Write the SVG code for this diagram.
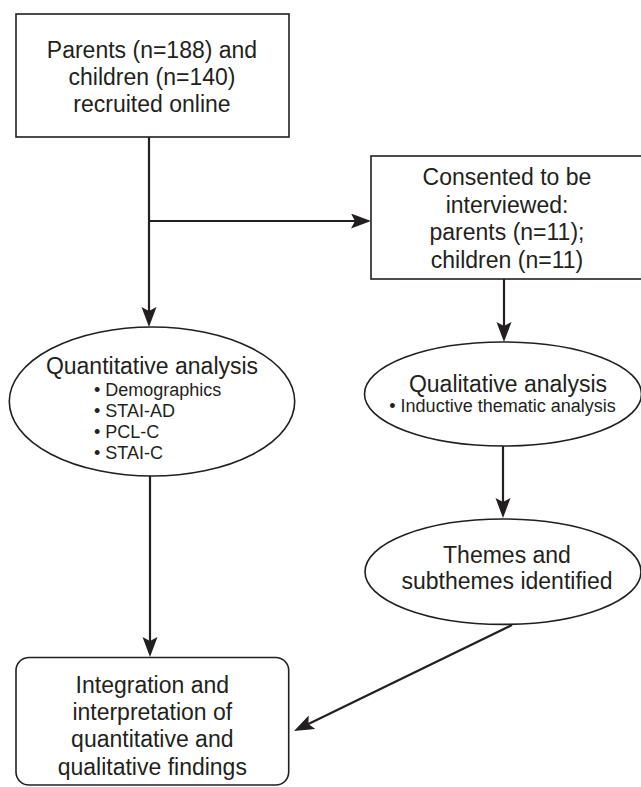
<svg xmlns="http://www.w3.org/2000/svg" width="641" height="787" viewBox="0 0 641 787">
<defs>
<style>
.node{fill:#ffffff;stroke:#231f20;stroke-width:1.6}
.t{font-family:"Liberation Sans",Arial,sans-serif;font-size:23px;fill:#231f20;text-anchor:middle}
.s{font-family:"Liberation Sans",Arial,sans-serif;font-size:18px;fill:#231f20}
.c{fill:none;stroke:#231f20;stroke-width:2.2}
</style>
<marker id="ah" markerUnits="userSpaceOnUse" markerWidth="22" markerHeight="16" refX="8" refY="7.5" orient="auto">
<path d="M0,0 L20,7.5 L0,15 L4,7.5 Z" fill="#231f20"/>
</marker>
</defs>
<rect width="641" height="787" fill="#ffffff"/>
<g id="connectors">
<path class="c" d="M149,137 L149,315" marker-end="url(#ah)"/>
<path class="c" d="M149,221 L359,221" marker-end="url(#ah)"/>
<path class="c" d="M504,279 L504,330" marker-end="url(#ah)"/>
<path class="c" d="M503,446 L503,506" marker-end="url(#ah)"/>
<path class="c" d="M150,476 L150,645" marker-end="url(#ah)"/>
<path class="c" d="M512,625 L304.8,725.8" marker-end="url(#ah)"/>
</g>
<g id="recruited">
<rect class="node" x="16" y="14" width="273" height="123"/>
<text class="t" x="152" y="58">Parents (n=188) and</text>
<text class="t" x="152" y="85">children (n=140)</text>
<text class="t" x="152" y="112">recruited online</text>
</g>
<g id="consented">
<rect class="node" x="371" y="156" width="272" height="123"/>
<text class="t" x="507" y="185">Consented to be</text>
<text class="t" x="507" y="212.5">interviewed:</text>
<text class="t" x="507" y="240">parents (n=11);</text>
<text class="t" x="507" y="267.5">children (n=11)</text>
</g>
<g id="quantitative">
<ellipse class="node" cx="152" cy="401.5" rx="142.7" ry="74.5"/>
<text class="t" x="152" y="374.3">Quantitative analysis</text>
<text class="s" x="94" y="395.7">• Demographics</text>
<text class="s" x="94" y="417.2">• STAI-AD</text>
<text class="s" x="94" y="438.3">• PCL-C</text>
<text class="s" x="94" y="459.3">• STAI-C</text>
</g>
<g id="qualitative">
<ellipse class="node" cx="503" cy="394" rx="138.5" ry="52"/>
<text class="t" x="508" y="391.7">Qualitative analysis</text>
<text class="s" x="502.5" y="411.7" text-anchor="middle">• Inductive thematic analysis</text>
</g>
<g id="themes">
<ellipse class="node" cx="503" cy="571.7" rx="138" ry="52.7"/>
<text class="t" x="507" y="562.7">Themes and</text>
<text class="t" x="507" y="589">subthemes identified</text>
</g>
<g id="integration">
<rect class="node" x="16" y="657.5" width="272.7" height="127.5" rx="13" ry="13"/>
<text class="t" x="152.3" y="692.7">Integration and</text>
<text class="t" x="152.3" y="720">interpretation of</text>
<text class="t" x="152.3" y="747.3">quantitative and</text>
<text class="t" x="152.3" y="774.5">qualitative findings</text>
</g>
</svg>
